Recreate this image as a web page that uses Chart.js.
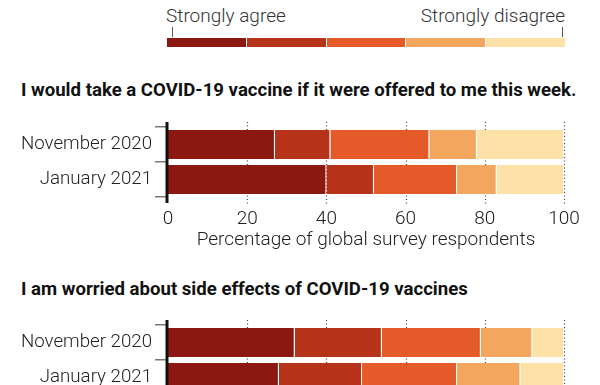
<!DOCTYPE html>
<html>
<head>
<meta charset="utf-8">
<script src="https://cdn.jsdelivr.net/npm/chart.js@4.4.1/dist/chart.umd.min.js"></script>
<style>
    body { margin: 0; width: 600px; height: 385px; overflow: hidden; background: #fff; font-family: Roboto, sans-serif; color: #222; position: relative; }
    .abs { position: absolute; }
    .leyenda-texto { font-size: 19px; font-weight: 300; line-height: 22px; color: #333; top: 5px; white-space: nowrap; }
    .marca { width: 1px; height: 10px; background: #555; top: 27px; }
    #barraLeyenda { left: 167px; top: 38px; width: 398px; height: 9px; display: flex; gap: 1px; }
    #barraLeyenda div { flex: 1; }
    .titulo { left: 21px; font-size: 18.6px; font-weight: bold; line-height: 22px; color: #111; white-space: nowrap; }
    canvas { position: absolute; left: 0; }
</style>
</head>
<body>
    <div class="abs leyenda-texto" style="left:166px">Strongly agree</div>
    <div class="abs leyenda-texto" style="right:35px">Strongly disagree</div>
    <div class="abs marca" style="left:172px"></div>
    <div class="abs marca" style="left:562px"></div>
    <div class="abs" id="barraLeyenda"></div>

    <div class="abs titulo" style="top:79px">I would take a COVID-19 vaccine if it were offered to me this week.</div>
    <canvas id="graficoVacuna" width="600" height="160" style="top:100px"></canvas>

    <div class="abs titulo" style="top:278px">I am worried about side effects of COVID-19 vaccines</div>
    <canvas id="graficoEfectos" width="600" height="160" style="top:298px"></canvas>

<script>
const categorias = ['November 2020', 'January 2021'];
const niveles = ['Strongly agree', 'Agree', 'Neutral', 'Disagree', 'Strongly disagree'];
const colores = ['#8c1911', '#b63219', '#e45b29', '#f3a65e', '#fde1a6'];
const ticksX = [0, 20, 40, 60, 80, 100];

// percentages per level, strongly agree -> strongly disagree
const vacunaNov = [27, 14, 25, 12, 22];
const vacunaEne = [40, 12, 21, 10, 17];
const efectosNov = [32, 22, 25, 13, 8];
const efectosEne = [28, 21, 24, 16, 11];

const barra = document.getElementById('barraLeyenda');
colores.forEach(c => {
    const d = document.createElement('div');
    d.style.background = c;
    barra.appendChild(d);
});

// dotted guides and the thick left axis, both reaching past the bars
const guias = {
    id: 'guias',
    beforeDatasetsDraw(chart) {
        const { ctx, chartArea, scales } = chart;
        ctx.save();
        ctx.strokeStyle = '#444';
        ctx.lineWidth = 1.2;
        ctx.setLineDash([1, 2.5]);
        ticksX.slice(1).forEach(v => {
            const x = Math.round(scales.x.getPixelForValue(v)) + 0.5;
            ctx.beginPath();
            ctx.moveTo(x, chartArea.top - 5);
            ctx.lineTo(x, chartArea.bottom + 8);
            ctx.stroke();
        });
        ctx.restore();
    },
    afterDatasetsDraw(chart) {
        const { ctx, chartArea } = chart;
        ctx.save();
        ctx.strokeStyle = '#111';
        ctx.lineWidth = 3;
        ctx.beginPath();
        ctx.moveTo(chartArea.left - 1, chartArea.top - 5);
        ctx.lineTo(chartArea.left - 1, chartArea.bottom + 6);
        ctx.stroke();
        ctx.restore();
    }
};

function crearGrafico(id, datosNov, datosEne) {
    const datasets = niveles.map((nivel, i) => ({
        label: nivel,
        data: [datosNov[i], datosEne[i]],
        backgroundColor: colores[i],
        borderColor: 'rgba(255,255,255,0.55)',
        borderWidth: { right: 1 },
        borderSkipped: false,
        categoryPercentage: 0.83,
        barPercentage: 1
    }));

    return new Chart(document.getElementById(id), {
        type: 'bar',
        data: { labels: categorias, datasets },
        options: {
            indexAxis: 'y',
            responsive: false,
            animation: false,
            events: [],
            layout: { padding: { top: 27, right: 36 } },
            plugins: { legend: { display: false }, tooltip: { enabled: false } },
            scales: {
                x: {
                    stacked: true,
                    min: 0,
                    max: 100,
                    afterBuildTicks: s => { s.ticks = ticksX.map(v => ({ value: v })); },
                    afterFit: s => { s.height = 63; },
                    grid: { display: false, drawTicks: false },
                    border: { display: false },
                    ticks: { font: { family: 'Roboto', size: 19, weight: 300 }, color: '#222', padding: 11, maxRotation: 0 },
                    title: {
                        display: true,
                        text: 'Percentage of global survey respondents',
                        font: { family: 'Roboto', size: 19, weight: 300 },
                        color: '#222',
                        padding: { top: 0, bottom: 8 }
                    }
                },
                y: {
                    stacked: true,
                    afterFit: s => { s.width = 168; },
                    grid: { drawOnChartArea: false, drawTicks: true, tickLength: 13, tickColor: '#777', lineWidth: 1.5 },
                    border: { display: false },
                    ticks: { font: { family: 'Roboto', size: 18.7, weight: 300 }, color: '#222', padding: 3 }
                }
            }
        },
        plugins: [guias]
    });
}

crearGrafico('graficoVacuna', vacunaNov, vacunaEne);
crearGrafico('graficoEfectos', efectosNov, efectosEne);
</script>
</body>
</html>
